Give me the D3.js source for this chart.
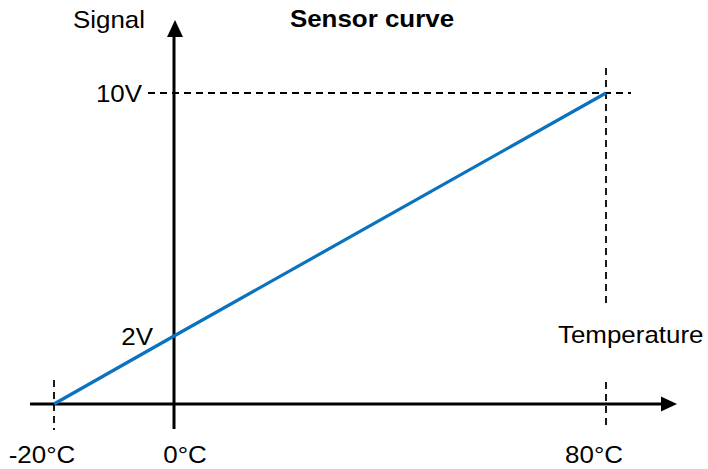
<!DOCTYPE html>
<html>
<head>
<meta charset="utf-8">
<script src="https://cdn.jsdelivr.net/npm/d3@7"></script>
<style>
  html, body { margin: 0; padding: 0; background: #fff; }
  svg { display: block; font-family: "Liberation Sans", Arial, sans-serif; }
</style>
</head>
<body>
<svg id="chart" width="708" height="469"></svg>
<script>
// Sensor characteristic: temperature (°C) -> output signal (V)
const temperatures = [-20, 0, 80];
const signals = [0, 2, 10];
const tempLabels = ["-20°C", "0°C", "80°C"];
const signalTicks = [2, 10];
const signalLabels = ["2V", "10V"];

const svg = d3.select("#chart");

// Schematic axes: the reference points are spaced by hand, so the scales are piecewise
const x = d3.scaleLinear().domain(temperatures).range([54, 174, 606]);
const y = d3.scaleLinear().domain(signals).range([404, 336, 93]);

const axisX = x(0), axisY = y(0);
const ink = "#000";
const stretch = 1.08; // labels are drawn slightly wide
const fs = 24;

function label(txt, px, py, anchor, bold) {
  svg.append("text")
    .attr("transform", `translate(${px},${py}) scale(${stretch},1)`)
    .attr("text-anchor", anchor)
    .attr("font-size", fs)
    .attr("font-weight", bold ? "bold" : "normal")
    .attr("fill", ink)
    .text(txt);
}

// Dashed guides at -20°C and at the 80°C / 10V end point
const g = svg.append("g").attr("stroke", ink).attr("stroke-width", 1.8)
  .attr("stroke-dasharray", "7,5").attr("fill", "none");
g.append("line").attr("x1", x(-20)).attr("x2", x(-20)).attr("y1", axisY - 24).attr("y2", axisY + 26);
g.append("line").attr("x1", x(80)).attr("x2", x(80)).attr("y1", y(10) - 25).attr("y2", 307);
g.append("line").attr("x1", x(80)).attr("x2", x(80)).attr("y1", axisY - 22).attr("y2", axisY + 23);
g.append("line").attr("x1", 148).attr("x2", x(80) + 25).attr("y1", y(10)).attr("y2", y(10));

// Axes with arrow heads
svg.append("line").attr("x1", 30).attr("x2", 664).attr("y1", axisY).attr("y2", axisY)
  .attr("stroke", ink).attr("stroke-width", 3);
svg.append("path").attr("d", `M677,${axisY} L661,${axisY - 7.5} L661,${axisY + 7.5} Z`).attr("fill", ink);
svg.append("line").attr("x1", axisX).attr("x2", axisX).attr("y1", 429).attr("y2", 34)
  .attr("stroke", ink).attr("stroke-width", 3);
svg.append("path").attr("d", `M${axisX + 1},20 L${axisX - 7},37 L${axisX + 9},37 Z`).attr("fill", ink);

// Sensor curve
const pts = temperatures.map((t, i) => [x(t), y(signals[i])]);
svg.append("path").datum(pts)
  .attr("d", d3.line())
  .attr("fill", "none").attr("stroke", "#0a72be").attr("stroke-width", 3.2);

// Temperature labels
const tempDx = [-12, 11, -12];
temperatures.forEach((t, i) => label(tempLabels[i], x(t) + tempDx[i], 463, "middle"));

// Signal labels
const sigRight = [153, 142];
signalTicks.forEach((v, i) => label(signalLabels[i], sigRight[i], y(v) + 9, "end"));

// Axis titles and chart title
label("Signal", 73, 28, "start");
label("Temperature", 558, 343, "start");
label("Sensor curve", 372, 27, "middle", true);
</script>
</body>
</html>
